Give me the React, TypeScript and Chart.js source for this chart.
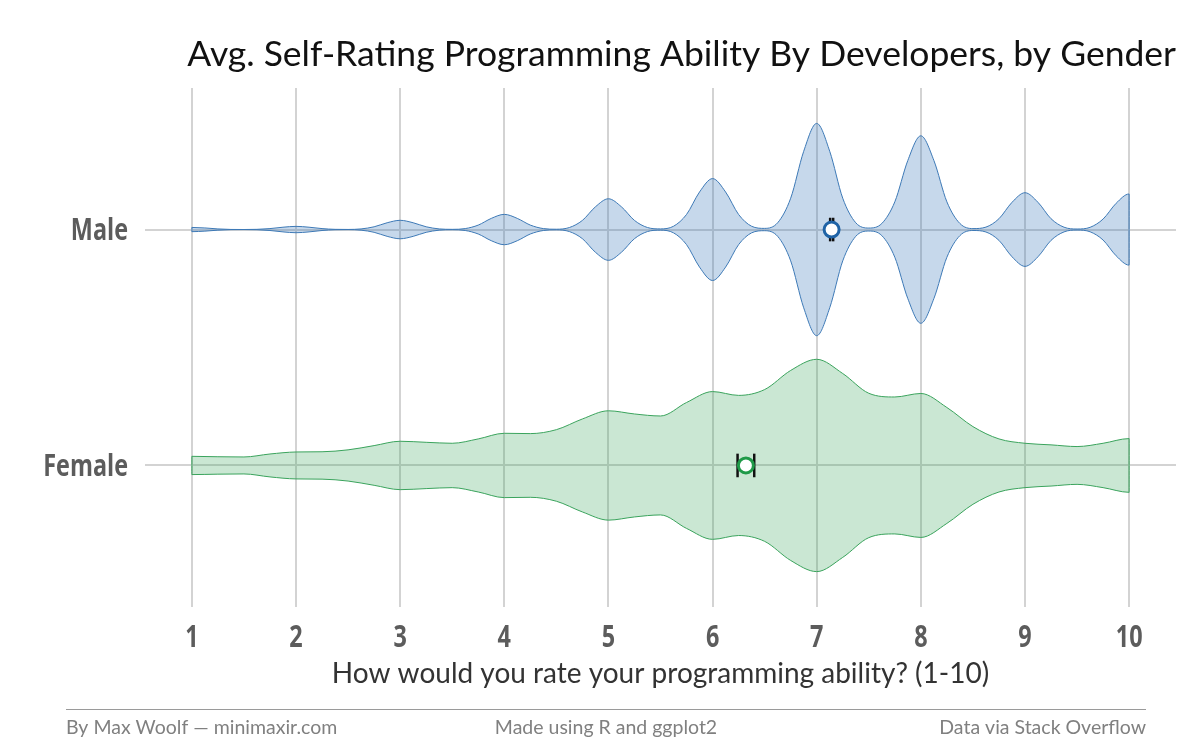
import React, { useEffect, useRef } from "react";
import { Chart, registerables } from "chart.js";

Chart.register(...registerables);

// ---- data ----
const categories = ["Female", "Male"];
const categoryPos = [1, 2];
const xTicks = [1, 2, 3, 4, 5, 6, 7, 8, 9, 10];

const titleText = "Avg. Self-Rating Programming Ability By Developers, by Gender";
const xTitle = "How would you rate your programming ability? (1-10)";
const footerLeft = "By Max Woolf \u2014 minimaxir.com";
const footerCenter = "Made using R and ggplot2";
const footerRight = "Data via Stack Overflow";

// Male violin: relative density (1 = widest) read at rating positions
const maleX = [
  1, 1.125, 1.25, 1.375, 1.5, 1.625, 1.75, 1.875,
  2, 2.125, 2.25, 2.375, 2.5, 2.625, 2.75, 2.875,
  3, 3.125, 3.25, 3.375, 3.5, 3.625, 3.75, 3.875,
  4, 4.125, 4.25, 4.375, 4.5, 4.625, 4.75, 4.875,
  5, 5.125, 5.25, 5.375, 5.5, 5.625, 5.75, 5.875,
  6, 6.125, 6.25, 6.375, 6.5, 6.625, 6.75, 6.875,
  7, 7.125, 7.25, 7.375, 7.5, 7.625, 7.75, 7.875,
  8, 8.125, 8.25, 8.375, 8.5, 8.625, 8.75, 8.875,
  9, 9.125, 9.25, 9.375, 9.5, 9.625, 9.75, 9.875,
  10,
];
const maleDensity = [
  0.020, 0.015, 0.006, 0.001, 0.0004, 0.002, 0.009, 0.022,
  0.030, 0.022, 0.009, 0.002, 0.001, 0.006, 0.026, 0.064,
  0.087, 0.064, 0.026, 0.006, 0.002, 0.009, 0.042, 0.105,
  0.143, 0.105, 0.042, 0.009, 0.003, 0.019, 0.086, 0.214,
  0.290, 0.214, 0.086, 0.019, 0.006, 0.031, 0.142, 0.354,
  0.480, 0.354, 0.142, 0.031, 0.011, 0.064, 0.295, 0.737,
  1.000, 0.737, 0.295, 0.064, 0.014, 0.057, 0.261, 0.651,
  0.883, 0.651, 0.261, 0.057, 0.009, 0.023, 0.102, 0.256,
  0.347, 0.256, 0.102, 0.022, 0.005, 0.021, 0.099, 0.247,
  0.335,
];

// Female violin
const femaleX = [
  1, 1.25, 1.5, 1.75, 2, 2.25, 2.5, 2.75, 3, 3.25, 3.5, 3.75,
  4, 4.25, 4.5, 4.75, 5, 5.25, 5.5, 5.75, 6, 6.25, 6.5, 6.75,
  7, 7.25, 7.5, 7.75, 8, 8.25, 8.5, 8.75, 9, 9.25, 9.5, 9.75, 10,
];
const femaleDensity = [
  0.086, 0.082, 0.080, 0.108, 0.127, 0.129, 0.147, 0.187, 0.228, 0.218, 0.209, 0.250,
  0.303, 0.300, 0.337, 0.438, 0.515, 0.485, 0.466, 0.593, 0.696, 0.660, 0.715, 0.895,
  1.000, 0.866, 0.680, 0.645, 0.678, 0.546, 0.366, 0.250, 0.209, 0.194, 0.178, 0.209, 0.253,
];

// mean and confidence interval (Female, Male)
const meanRating = [6.32, 7.143];
const ciLow = [6.24, 7.129];
const ciHigh = [6.4, 7.158];

// ---- styling ----
const HALF_WIDTH = 0.45;
const CAP = 0.05;
const maleLine = "#3d79b6";
const maleFill = "rgba(46,110,180,0.27)";
const maleDot = "#1f63a6";
const femaleLine = "#3aa35c";
const femaleFill = "rgba(49,163,84,0.26)";
const femaleDot = "#1f9a48";
const gridColor = "#d3d3d3";
const labelFont = "bold 30px 'Open Sans', sans-serif";
const labelSqueeze = 0.78;
const labelColor = "#5c5c5c";
const textFont = "Lato, 'Open Sans', sans-serif";

function violin(xs: number[], d: number[], center: number) {
  const top = xs.map((x, i) => ({ x, y: center + HALF_WIDTH * d[i] }));
  const bottom = xs.map((x, i) => ({ x, y: center - HALF_WIDTH * d[i] })).reverse();
  return [...top, ...bottom, top[0]];
}

function squeezedText(ctx: any, text: string, x: number, y: number, align: string) {
  ctx.save();
  ctx.translate(x, y);
  ctx.scale(labelSqueeze, 1);
  ctx.textAlign = align;
  ctx.fillText(text, 0, 0);
  ctx.restore();
}

const decor = {
  id: "decor",
  afterDraw(chart: any) {
    const ctx = chart.ctx;
    const xs = chart.scales.x;
    const ys = chart.scales.y;
    ctx.save();

    // axis labels (condensed bold)
    ctx.fillStyle = labelColor;
    ctx.font = labelFont;
    ctx.textBaseline = "middle";
    xTicks.forEach((v) => {
      squeezedText(ctx, String(v), xs.getPixelForValue(v), 638, "center");
    });
    categoryPos.forEach((c, i) => {
      squeezedText(ctx, categories[i], 128, ys.getPixelForValue(c) + 2, "right");
    });

    // title
    ctx.fillStyle = "#111111";
    ctx.font = `35.5px ${textFont}`;
    ctx.textAlign = "right";
    ctx.textBaseline = "alphabetic";
    ctx.fillText(titleText, chart.chartArea.right, 66);

    // footer
    ctx.strokeStyle = "#9a9a9a";
    ctx.lineWidth = 1;
    ctx.beginPath();
    ctx.moveTo(66, 709.5);
    ctx.lineTo(1146, 709.5);
    ctx.stroke();

    ctx.fillStyle = "#808080";
    ctx.font = `19.5px ${textFont}`;
    ctx.textBaseline = "middle";
    ctx.textAlign = "left";
    ctx.fillText(footerLeft, 66, 728);
    ctx.textAlign = "center";
    ctx.fillText(footerCenter, 606, 728);
    ctx.textAlign = "right";
    ctx.fillText(footerRight, 1146, 728);
    ctx.restore();
  },
};

export default function App() {
  const ref = useRef<HTMLCanvasElement | null>(null);

  useEffect(() => {
    if (!ref.current) return;
    const fIdx = 0;
    const mIdx = 1;
    const errDatasets: any[] = [];
    [fIdx, mIdx].forEach((i) => {
      const c = categoryPos[i];
      const segs = [
        [{ x: ciLow[i], y: c }, { x: ciHigh[i], y: c }],
        [{ x: ciLow[i], y: c - CAP }, { x: ciLow[i], y: c + CAP }],
        [{ x: ciHigh[i], y: c - CAP }, { x: ciHigh[i], y: c + CAP }],
      ];
      segs.forEach((s) =>
        errDatasets.push({
          data: s,
          borderColor: "#111111",
          borderWidth: 2.5,
          pointRadius: 0,
          fill: false,
          order: 1,
        })
      );
    });

    const chart = new Chart(ref.current, {
      type: "line",
      data: {
        datasets: [
          {
            data: violin(maleX, maleDensity, categoryPos[mIdx]),
            borderColor: maleLine,
            backgroundColor: maleFill,
            borderWidth: 1,
            fill: "shape",
            cubicInterpolationMode: "monotone",
            pointRadius: 0,
            order: 2,
          },
          {
            data: violin(femaleX, femaleDensity, categoryPos[fIdx]),
            borderColor: femaleLine,
            backgroundColor: femaleFill,
            borderWidth: 1,
            fill: "shape",
            cubicInterpolationMode: "monotone",
            pointRadius: 0,
            order: 2,
          },
          ...errDatasets,
          {
            data: [{ x: meanRating[mIdx], y: categoryPos[mIdx] }],
            showLine: false,
            pointRadius: 7.5,
            pointBorderWidth: 3,
            pointBackgroundColor: "#ffffff",
            pointBorderColor: maleDot,
            order: 0,
          },
          {
            data: [{ x: meanRating[fIdx], y: categoryPos[fIdx] }],
            showLine: false,
            pointRadius: 7.5,
            pointBorderWidth: 3,
            pointBackgroundColor: "#ffffff",
            pointBorderColor: femaleDot,
            order: 0,
          },
        ],
      },
      options: {
        responsive: false,
        animation: false,
        events: [],
        layout: { padding: { left: 0, right: 24, top: 88, bottom: 43 } },
        plugins: {
          legend: { display: false },
          tooltip: { enabled: false },
          title: { display: false },
        },
        scales: {
          x: {
            type: "linear",
            min: 0.55,
            max: 10.45,
            afterBuildTicks: (s: any) => {
              s.ticks = xTicks.map((v) => ({ value: v }));
            },
            afterFit: (s: any) => {
              s.height = 100;
            },
            grid: { color: gridColor, lineWidth: 2, drawTicks: false },
            border: { display: false },
            ticks: { display: false },
            title: {
              display: true,
              text: xTitle,
              color: "#333333",
              font: { family: textFont, size: 28 },
              padding: { top: 0, bottom: 16 },
            },
          },
          y: {
            type: "linear",
            min: 0.4,
            max: 2.6,
            afterBuildTicks: (s: any) => {
              s.ticks = categoryPos.map((v) => ({ value: v }));
            },
            afterFit: (s: any) => {
              s.width = 145;
            },
            grid: { color: gridColor, lineWidth: 2, drawTicks: false },
            border: { display: false },
            ticks: { display: false },
          },
        },
      } as any,
      plugins: [decor],
    });
    return () => chart.destroy();
  }, []);

  return (
    <div style={{ position: "absolute", left: 0, top: 0, width: 1200, height: 750, background: "#ffffff" }}>
      <canvas ref={ref} width={1200} height={750} style={{ width: 1200, height: 750, display: "block" }} />
    </div>
  );
}
